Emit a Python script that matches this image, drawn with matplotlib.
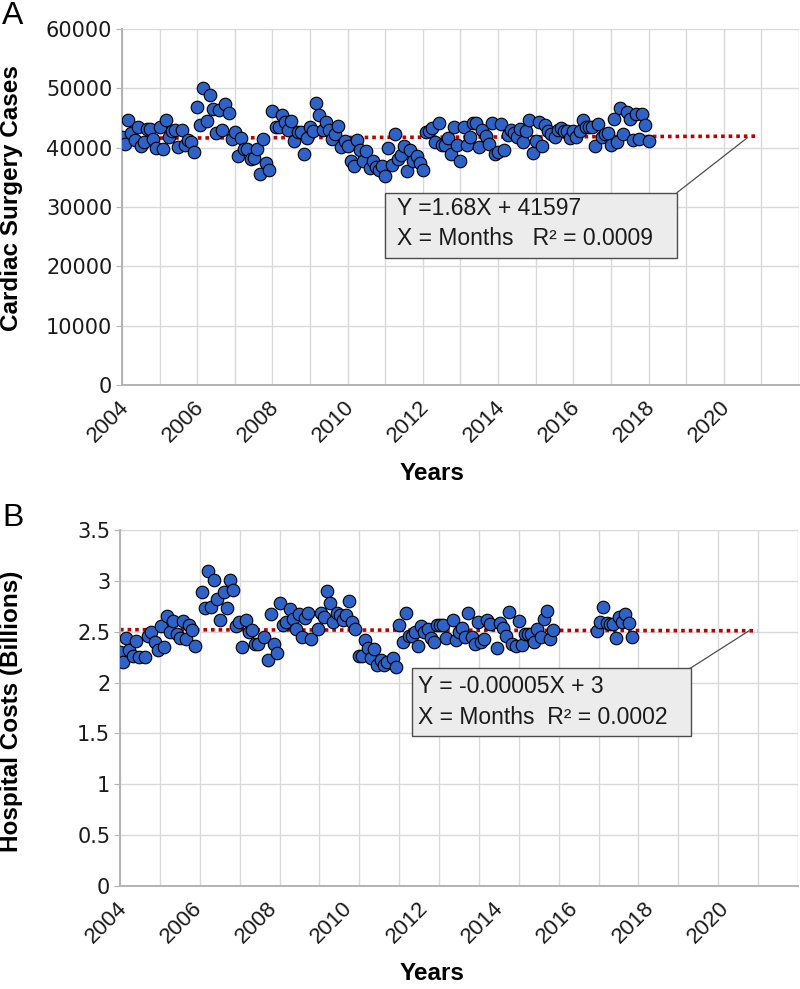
import numpy as np
import matplotlib
matplotlib.use("Agg")
import matplotlib.pyplot as plt
from matplotlib.patches import Rectangle
import matplotlib.transforms as mtransforms

# ---------------- data ----------------
start_year = 2004

# Panel A: monthly cardiac surgery cases, Jan 2004 onward
cases = [41730, 40620, 44650, 42400, 41290, 43410, 40340, 40900, 43130, 43130, 41460, 39890,
         43410, 39780, 44700, 41730, 42860, 43020, 40050, 43020, 40500, 41290, 40900, 39280,
         46890, 43860, 50030, 44540, 48960, 46550, 42400, 46330, 43020, 47340, 45760, 41510,
         42690, 38540, 41620, 39720, 39720, 38150, 38210, 39830, 35510, 41400, 37480, 36250,
         46100, 43530, 43530, 45500, 44250, 42970, 44540, 41060, 42580, 42580, 38930, 41680,
         43410, 42860, 47560, 45500, 43020, 44250, 43020, 41460, 42300, 43580, 40050,
         41180, 40340, 37820, 36870, 41290, 39660, 37820, 39380, 36590, 37820, 36700, 36310,
         36870, 35300, 39890, 37030, 42300, 38100, 38830, 40230, 36140, 39600, 37700, 38660,
         37430, 36250, 42580, 42860, 43300, 41010, 44080, 40500, 40500, 41620, 38930, 43530,
         40500, 37820, 43530, 40500, 41840, 44080, 44080, 40050, 43020, 42020, 40620, 44080,
         38930, 39330, 43970, 39600, 42190, 42970, 42400, 41730, 43130, 40900, 42860, 44650,
         39050, 41180, 44370, 40230, 43860, 42860, 42300, 41730, 42970, 43240, 42860, 42740,
         41620, 42740, 41840, 42860, 44650, 43530, 43410, 43410, 40340, 43970, 41730, 42300,
         42400, 40450, 44820, 41010, 46670, 42300, 45930, 44820, 41340, 45660, 41460, 45660,
         43860, 41180]
cases_months = list(range(len(cases)))

# Panel B: monthly hospital costs (billions); months counted from Jan 2004
costs_months = [0, 1, 2, 3, 4, 5, 6, 8, 9, 10, 11, 12, 13, 14, 15, 16, 17, 18, 19, 20, 21, 22, 23, 24,
                26, 27, 28, 29, 30, 31, 32, 33, 34, 35, 36, 37, 38, 39, 40, 41, 42, 43, 44,
                46, 47, 48, 49, 50, 51, 52, 53, 54, 55, 56, 57, 58, 59, 60, 61,
                63, 64, 65, 66, 67, 68, 69, 70, 71,
                72, 73, 74, 75, 76, 77, 78, 79, 80, 81, 82, 83, 84, 85,
                87, 88, 89, 90, 91, 92, 93, 94, 95, 96, 97, 98, 99, 100, 101, 102, 103, 104,
                106, 107, 108, 109, 110, 111, 112, 113, 114, 115, 116, 117, 118,
                120, 121, 122, 123, 124, 125, 126, 127, 128, 129, 130, 131, 132, 133, 134, 135, 136, 137, 138,
                152, 153, 154, 155, 156, 157, 158, 159, 160, 161, 162, 163]
costs = [2.303, 2.199, 2.441, 2.320, 2.264, 2.409, 2.248, 2.248, 2.458, 2.494,
         2.402, 2.320, 2.559, 2.353, 2.658, 2.494, 2.608, 2.474, 2.441, 2.608,
         2.428, 2.566, 2.517, 2.363, 2.887, 2.730, 3.097, 2.746, 3.005, 2.822,
         2.615, 2.887, 2.730, 3.005, 2.910, 2.559, 2.592, 2.353, 2.615, 2.500,
         2.517, 2.379, 2.379, 2.451, 2.222, 2.670, 2.379, 2.294, 2.779, 2.566,
         2.599, 2.721, 2.622, 2.524, 2.670, 2.451, 2.631, 2.680, 2.425, 2.524,
         2.687, 2.641, 2.903, 2.785, 2.599, 2.687, 2.664, 2.615,
         2.664, 2.802, 2.599, 2.527, 2.264, 2.264, 2.418, 2.337, 2.238, 2.327,
         2.173, 2.222, 2.173, 2.205, 2.238, 2.156, 2.566, 2.402, 2.687, 2.458,
         2.458, 2.500, 2.363, 2.556, 2.500, 2.524, 2.435, 2.402, 2.566, 2.566,
         2.566, 2.435, 2.615, 2.418, 2.500, 2.539, 2.444, 2.680, 2.451, 2.379,
         2.599, 2.402, 2.425, 2.615, 2.576, 2.337, 2.583, 2.533, 2.458, 2.697,
         2.379, 2.360, 2.608, 2.370, 2.477, 2.477, 2.477, 2.402, 2.527, 2.444,
         2.622, 2.704, 2.425, 2.517,
         2.510, 2.599, 2.740, 2.589, 2.576, 2.576, 2.441, 2.648, 2.599, 2.670, 2.589, 2.444]

trend_a = (1.68, 41597)        # slope per month, intercept
trend_b = (-0.00005, 2.52)
trend_end_month = 203

xtick_years = list(range(2004, 2021, 2))
yticks_a = [0, 10000, 20000, 30000, 40000, 50000, 60000]
yticks_b = [0, 0.5, 1, 1.5, 2, 2.5, 3, 3.5]
ytick_labels_b = ["0", "0.5", "1", "1.5", "2", "2.5", "3", "3.5"]

eq_a = ["Y =1.68X + 41597", "X = Months   R\u00b2 = 0.0009"]
eq_b = ["Y = -0.00005X + 3", "X = Months  R\u00b2 = 0.0002"]

# ---------------- style ----------------
BLUE = "#2e62c6"
RED = "#c00000"
GRID = "#d9d9d9"
SPINE = "#b3b3b3"
TXT = "#1a1a1a"
tick_font = "DejaVu Sans"
txt_font = "Liberation Sans"

fig = plt.figure(figsize=(8, 9.89), dpi=100)
axA = fig.add_axes([122 / 800, 1 - 385 / 989, (799 - 122) / 800, (385 - 29) / 989])
axB = fig.add_axes([120 / 800, 1 - 886 / 989, (798 - 120) / 800, (886 - 530) / 989])


def to_year(m):
    return start_year + np.asarray(m, dtype=float) / 12.0


def style_axes(ax, ymax, yticks, ylabels, vgrid):
    ax.set_xlim(2004, 2022)
    ax.set_ylim(0, ymax)
    for s in ("top", "right"):
        ax.spines[s].set_visible(False)
    for s in ("left", "bottom"):
        ax.spines[s].set_color(SPINE)
        ax.spines[s].set_linewidth(1.4)
    for v in vgrid:
        ax.axvline(v, color=GRID, lw=1.0, zorder=0)
    for h in yticks:
        ax.axhline(h, color=GRID, lw=1.0, zorder=0)
    ax.set_yticks(yticks)
    ax.set_yticklabels(ylabels, fontfamily=tick_font, fontsize=15, color=TXT)
    ax.set_xticks(xtick_years)
    ax.set_xticklabels([])
    ax.tick_params(axis="y", length=4, color=SPINE, pad=3)
    ax.tick_params(axis="x", length=0)
    # rotated year labels, upper-right corner just right of / below each tick
    offset = mtransforms.ScaledTranslation(11 / 100, -12 / 100, fig.dpi_scale_trans)
    trans = ax.get_xaxis_transform() + offset
    for yr in xtick_years:
        ax.text(yr, 0, str(yr), transform=trans, rotation=45, ha="right", va="top",
                fontfamily=txt_font, fontsize=16, color=TXT, clip_on=False)


style_axes(axA, 60000, yticks_a, [str(v) for v in yticks_a], np.arange(2004, 2023))
style_axes(axB, 3.5, yticks_b, ytick_labels_b, np.linspace(2004, 2022, 18))

# trend lines
tm = np.arange(0, trend_end_month + 1)
axA.plot(to_year(tm), trend_a[0] * tm + trend_a[1], color=RED, lw=2.6,
         ls=(0, (1, 1.1)), zorder=2)
axB.plot(to_year(tm), trend_b[0] * tm + trend_b[1], color=RED, lw=2.6,
         ls=(0, (1, 1.1)), zorder=2)

# scatter points
axA.scatter(to_year(cases_months), cases, s=82, c=BLUE, edgecolors="black",
            linewidths=0.8, zorder=3)
axB.scatter(to_year(costs_months), costs, s=82, c=BLUE, edgecolors="black",
            linewidths=0.8, zorder=3)

# annotation boxes
axA.add_patch(Rectangle((2011.0, 21345), 7.76, 11095, facecolor="#ececec",
                        edgecolor="#4d4d4d", lw=1.0, zorder=4))
axA.plot([2018.76, 2020.62], [32440, 41640], color="#4d4d4d", lw=0.9, zorder=4)
axA.text(2011.3, 29750, eq_a[0], fontfamily=txt_font, fontsize=16.5, color=TXT,
         va="center", ha="left", zorder=5)
axA.text(2011.3, 24650, eq_a[1], fontfamily=txt_font, fontsize=16.5, color=TXT,
         va="center", ha="left", zorder=5)

axB.add_patch(Rectangle((2011.74, 1.475), 7.41, 0.668, facecolor="#ececec",
                        edgecolor="#4d4d4d", lw=1.0, zorder=4))
axB.plot([2019.15, 2020.69], [2.143, 2.507], color="#4d4d4d", lw=0.9, zorder=4)
axB.text(2011.92, 1.966, eq_b[0], fontfamily=txt_font, fontsize=16.5, color=TXT,
         va="center", ha="left", zorder=5)
axB.text(2011.92, 1.661, eq_b[1], fontfamily=txt_font, fontsize=16.5, color=TXT,
         va="center", ha="left", zorder=5)

# axis titles and panel letters
title_kw = dict(fontfamily=txt_font, fontweight="bold", fontsize=17.5, color="black")
fig.text(0.0145, 1 - 198 / 989, "Cardiac Surgery Cases", rotation=90, ha="center",
         va="center", **title_kw)
fig.text(0.0145, 1 - 711 / 989, "Hospital Costs (Billions)", rotation=90, ha="center",
         va="center", **title_kw)
fig.text(432 / 800, 1 - 474 / 989, "Years", ha="center", va="center", **title_kw)
fig.text(432 / 800, 1 - 974 / 989, "Years", ha="center", va="center", **title_kw)
fig.text(2 / 800, 1 - 16 / 989, "A", ha="left", va="center",
         fontfamily=txt_font, fontsize=23, color="black")
fig.text(2 / 800, 1 - 518 / 989, "B", ha="left", va="center",
         fontfamily=txt_font, fontsize=23, color="black")

fig.savefig("out.png", dpi=100)
